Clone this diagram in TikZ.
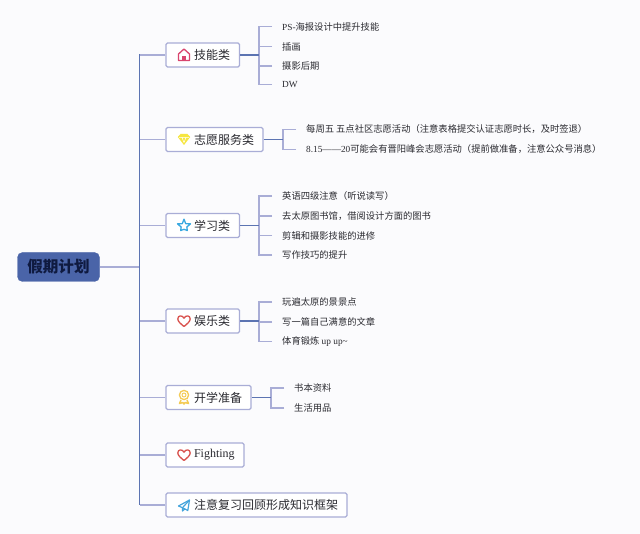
\documentclass[tikz,border=0pt]{standalone}
\usepackage{fontspec}
\setmainfont{Liberation Serif}
\newfontfamily\cjk{Noto Sans CJK SC}
\definecolor{bgc}{HTML}{FBFBFD}
\definecolor{lav}{HTML}{A9ADD6}
\definecolor{trunkc}{HTML}{5C74B2}
\definecolor{rootc}{HTML}{4A64A8}
\definecolor{roottxt}{HTML}{0F1A40}
\definecolor{txt}{HTML}{2A2A30}
\definecolor{housec}{HTML}{D9456E}
\definecolor{gemc}{HTML}{F6E640}
\definecolor{starc}{HTML}{38A8E0}
\definecolor{heartc}{HTML}{D9534F}
\definecolor{medalc}{HTML}{F4CB55}
\definecolor{planec}{HTML}{45A5DC}
\tikzset{
  x=1pt,y=-1pt,
  rootbox/.style={draw=rootc,fill=rootc,rounded corners=5pt,minimum width=82pt,minimum height=29pt,inner sep=0pt,text=roottxt,font=\cjk\fontsize{15.6}{16}\selectfont\bfseries},
  catbox/.style={draw=lav,line width=1.1pt,fill=white,rounded corners=1.5pt,minimum height=24pt,inner xsep=0pt,inner ysep=0pt,align=left,text=txt,font=\fontsize{12}{14}\selectfont},
  leaf/.style={anchor=west,inner xsep=10pt,inner ysep=0pt,minimum height=13pt,text=txt,font=\fontsize{9.3}{12}\selectfont},
  thin link/.style={draw=lav,line width=1.2pt},
  main link/.style={draw=trunkc,line width=1.2pt},
}
\newcommand{\catbx}[4]{% name, right x, mid y, text
  \pgfmathsetmacro{\catw}{#2-166}
  \node[catbox,text width=\catw pt,minimum width=\catw pt] (#1) at ({(166+#2)/2},#3) {\hspace*{28pt}\raisebox{-1pt}{#4}};
}
\begin{document}
\begin{tikzpicture}
\useasboundingbox (0,0) rectangle (640,534);
\fill[bgc] (0,0) rectangle (640,534);

% root and trunk
\node[rootbox] (root) at (58.5,267) {假期计划};
\coordinate (tr0) at (139.5,267);
\coordinate (trtop) at (139.5,54.5);
\coordinate (trbot) at (139.5,505);

% categories
\catbx{c1}{239.5}{55}{{\cjk 技能类}}
\catbx{c2}{263}{139.5}{{\cjk 志愿服务类}}
\catbx{c3}{239.5}{225.5}{{\cjk 学习类}}
\catbx{c4}{239.5}{321}{{\cjk 娱乐类}}
\catbx{c5}{251}{397.5}{{\cjk 开学准备}}
\catbx{c6}{244}{455}{\raisebox{3pt}{Fighting}}
\catbx{c7}{347}{505}{{\cjk 注意复习回顾形成知识框架}}

\draw[thin link] (root.east) -- (tr0);
\foreach \n in {c1,c2,c3,c4,c5,c6,c7} \draw[thin link] (\n.west) -- (tr0 |- \n.west);
\draw[main link] (trtop) -- (trbot);

% leaves
\node[leaf] (a1) at (272,26.5) {PS-{\cjk 海报设计中提升技能}};
\node[leaf] (a2) at (272,46.5) {\cjk 插画};
\node[leaf] (a3) at (272,66) {\cjk 摄影后期};
\node[leaf] (a4) at (272,84.5) {DW};
\node[leaf] (b1) at (296,129.5) {{\cjk 每周五 五点社区志愿活动（注意表格提交认证志愿时长，及时签退）}};
\node[leaf] (b2) at (296,149.5) {8.15——20{\cjk 可能会有晋阳峰会志愿活动（提前做准备，注意公众号消息）}};
\node[leaf] (d1) at (272,196) {{\cjk 英语四级注意（听说读写）}};
\node[leaf] (d2) at (272,216) {\cjk 去太原图书馆，借阅设计方面的图书};
\node[leaf] (d3) at (272,235.5) {\cjk 剪辑和摄影技能的进修};
\node[leaf] (d4) at (272,255) {\cjk 写作技巧的提升};
\node[leaf] (e1) at (272,302) {\cjk 玩遍太原的景景点};
\node[leaf] (e2) at (272,322) {\cjk 写一篇自己满意的文章};
\node[leaf] (e3) at (272,341.5) {{\cjk 体育锻炼} up up\textasciitilde};
\node[leaf] (f1) at (284,388) {\cjk 书本资料};
\node[leaf] (f2) at (284,408) {\cjk 生活用品};

% brackets
\foreach \c/\bx/\list in {c1/259/{a1,a2,a3,a4},c2/283/{b1,b2},c3/259/{d1,d2,d3,d4},c4/259/{e1,e2,e3},c5/271/{f1,f2}}{
  \coordinate (j) at (\bx,0);
  \foreach \l in \list \draw[thin link] (\l.west) -| (j |- \c.east);
  \draw[main link] (\c.east) -- (j |- \c.east);
}

% icons
\begin{scope}[shift={(184,55)}]
  \draw[housec,line width=1.3pt,line join=round] (0,-6) -- (-5.5,-1) -- (-5.5,5.5) -- (5.5,5.5) -- (5.5,-1) -- cycle;
  \fill[housec] (-1.6,1) rectangle (1.6,5.5);
\end{scope}
\begin{scope}[shift={(184,139.5)}]
  \fill[gemc] (-6.2,-2.5) -- (-3.5,-5.5) -- (3.5,-5.5) -- (6.2,-2.5) -- (0,5.5) -- cycle;
  \draw[white,line width=.5pt] (-5,-2) -- (5,-2) (-2,-2) -- (0,3) -- (2,-2);
\end{scope}
\begin{scope}[shift={(184,226)}]
  \draw[starc,line width=1.3pt,line join=round] (-90:6.8) -- (-54:2.9) -- (-18:6.8) -- (18:3) -- (54:5.6) -- (90:3.3) -- (126:5.6) -- (162:3) -- (198:6.8) -- (234:2.9) -- cycle;
\end{scope}
\foreach \hy in {321,455}{
\begin{scope}[shift={(184,\hy)}]
  \draw[heartc,line width=1.3pt,line join=round] (0,5.5) .. controls (-3,3) and (-6.2,0.5) .. (-6.2,-2) .. controls (-6.2,-6) and (-1.5,-6) .. (0,-2.8) .. controls (1.5,-6) and (6.2,-6) .. (6.2,-2) .. controls (6.2,0.5) and (3,3) .. (0,5.5) -- cycle;
\end{scope}}
\begin{scope}[shift={(184,397)}]
  \draw[medalc,line width=1.3pt] (0,-2) circle (4.6);
  \draw[medalc,line width=.9pt] (0,-2) circle (2);
  \draw[medalc,line width=1.5pt,line join=round] (-3,3) -- (-4.5,6.5) -- (-1.2,5.5) -- (0,7) -- (1.2,5.5) -- (4.5,6.5) -- (3,3);
\end{scope}
\begin{scope}[shift={(184,505.5)}]
  \draw[planec,line width=1.2pt,line join=round] (5.5,-5.5) -- (-5.5,0.5) -- (-1.5,2.2) -- (3.8,5) -- cycle;
  \draw[planec,line width=1.2pt,line join=round] (5.5,-5.5) -- (-1.5,2.2) -- (-1.5,5.5) -- (0.8,3.5);
\end{scope}
\end{tikzpicture}
\end{document}
